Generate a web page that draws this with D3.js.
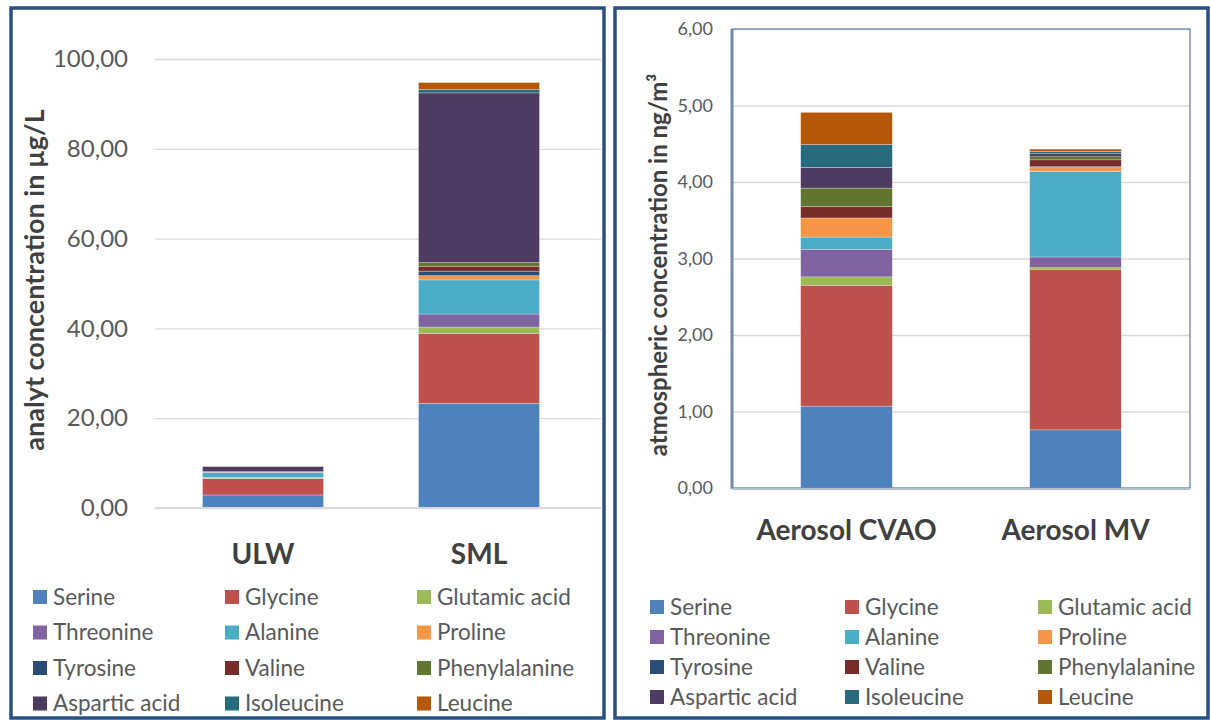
<!DOCTYPE html>
<html>
<head>
<meta charset="utf-8">
<script src="https://cdn.jsdelivr.net/npm/d3@7"></script>
<style>
  body { margin: 0; background: #fff; }
  svg { display: block; font-family: Lato, "Open Sans", sans-serif; }
</style>
</head>
<body>
<svg id="chart" width="1211" height="720"></svg>
<script>
// ---- data ----
const aminoAcids = ["Serine", "Glycine", "Glutamic acid", "Threonine", "Alanine", "Proline",
  "Tyrosine", "Valine", "Phenylalanine", "Aspartic acid", "Isoleucine", "Leucine"];
const colors = ["#4F81BD", "#C0504D", "#9BBB59", "#8064A2", "#4BACC6", "#F79646",
  "#2C4D75", "#772C2A", "#5F7530", "#4D3B62", "#276A7C", "#B65708"];

// water samples, µg/L
const waterSites = ["ULW", "SML"];
const ulwValues = [2.9, 3.7, 0.1, 0.1, 1.1, 0.05, 0.05, 0.05, 0.05, 1.1, 0.05, 0.05];
const smlValues = [23.3, 15.6, 1.4, 2.9, 7.6, 0.95, 1.0, 1.1, 0.8, 37.8, 0.8, 1.5];
const waterTicks = [0, 20, 40, 60, 80, 100];

// aerosol samples, ng/m3
const aerosolSites = ["Aerosol CVAO", "Aerosol MV"];
const cvaoValues = [1.07, 1.58, 0.11, 0.36, 0.16, 0.25, 0.0, 0.15, 0.24, 0.27, 0.30, 0.42];
const mvValues = [0.76, 2.10, 0.02, 0.14, 1.12, 0.05, 0.01, 0.09, 0.04, 0.04, 0.03, 0.03];
const aerosolTicks = [0, 1, 2, 3, 4, 5, 6];

// ---- helpers ----
const svg = d3.select("#chart");
const color = d3.scaleOrdinal(aminoAcids, colors);
const fmt = v => d3.format(".2f")(v).replace(".", ",");

function toRows(sites, valueLists) {
  return sites.map((s, i) => {
    const row = { site: s };
    aminoAcids.forEach((a, j) => row[a] = valueLists[i][j]);
    return row;
  });
}

function drawPanel(opt) {
  const g = svg.append("g");

  // panel frame
  g.append("rect")
    .attr("x", opt.frame[0]).attr("y", opt.frame[1])
    .attr("width", opt.frame[2]).attr("height", opt.frame[3])
    .attr("fill", "none").attr("stroke", "#2B4F80").attr("stroke-width", 3.5);

  const x = d3.scaleBand().domain(opt.sites).range([opt.left, opt.right])
    .paddingInner(opt.gap).paddingOuter(opt.gap / 2);
  const y = d3.scaleLinear().domain(opt.domain).range([opt.bottom, opt.top]);
  const gridRight = opt.gridRight || opt.right;

  // grid + tick labels
  const axis = g.append("g")
    .attr("transform", `translate(${opt.left},0)`)
    .call(d3.axisLeft(y).tickValues(opt.ticks).tickFormat(fmt)
      .tickSize(-(gridRight - opt.left)).tickPadding(opt.tickPad));
  axis.select(".domain").remove();
  axis.selectAll(".tick line").attr("stroke", "#D9D9D9").attr("stroke-width", 1.3);
  axis.selectAll(".tick text").attr("fill", "#595959")
    .style("font-size", opt.tickFont + "px").style("font-family", "Lato");

  // stacked bars
  const series = d3.stack().keys(aminoAcids)(toRows(opt.sites, opt.values));
  g.append("g").selectAll("g").data(series).join("g")
    .attr("fill", d => color(d.key))
    .selectAll("rect").data(d => d).join("rect")
    .attr("x", d => x(d.data.site))
    .attr("width", x.bandwidth())
    .attr("y", d => y(d[1]))
    .attr("height", d => Math.max(0, y(d[0]) - y(d[1])))
    .attr("stroke", "rgba(255,255,255,0.45)").attr("stroke-width", 0.6);

  // frame of plot area (aerosol chart only)
  if (opt.plotFrame) {
    g.append("rect")
      .attr("x", opt.left).attr("y", opt.top)
      .attr("width", opt.right - opt.left).attr("height", opt.bottom - opt.top)
      .attr("fill", "none").attr("stroke", "#5A7CAE").attr("stroke-width", 1.2);
    g.append("line")
      .attr("x1", opt.left).attr("x2", opt.left)
      .attr("y1", opt.top).attr("y2", opt.bottom + 1)
      .attr("stroke", "#7088AD").attr("stroke-width", 3);
    g.append("line")
      .attr("x1", opt.left).attr("x2", opt.right)
      .attr("y1", opt.bottom + 1).attr("y2", opt.bottom + 1)
      .attr("stroke", "#B4BFD0").attr("stroke-width", 2);
  } else {
    g.append("line")
      .attr("x1", opt.left).attr("x2", gridRight)
      .attr("y1", opt.bottom).attr("y2", opt.bottom)
      .attr("stroke", "#D9D9D9").attr("stroke-width", 2);
  }

  // category labels
  g.append("g").selectAll("text").data(opt.sites).join("text")
    .attr("x", d => x(d) + x.bandwidth() / 2)
    .attr("y", opt.catY)
    .attr("text-anchor", "middle")
    .attr("fill", "#404040")
    .style("font-size", opt.catFont + "px").style("font-weight", "bold")
    .text(d => d);

  // y axis title
  g.append("text")
    .attr("transform", `translate(${opt.titleX},${opt.titleY}) rotate(-90)`)
    .attr("text-anchor", "middle")
    .attr("fill", "#404040")
    .style("font-size", opt.titleFont + "px").style("font-weight", "bold")
    .text(opt.title);

  // legend, 3 columns x 4 rows
  const leg = g.append("g").selectAll("g").data(aminoAcids).join("g")
    .attr("transform", (d, i) =>
      `translate(${opt.legX[i % 3]},${opt.legY + Math.floor(i / 3) * opt.legStep})`);
  leg.append("rect")
    .attr("x", 0).attr("y", -7).attr("width", 14).attr("height", 14)
    .attr("fill", d => color(d));
  leg.append("text")
    .attr("x", 20).attr("dy", "0.35em")
    .attr("fill", "#595959")
    .style("font-size", opt.legFont + "px")
    .text(d => d);
}

drawPanel({
  frame: [11, 8, 593, 710],
  sites: waterSites, values: [ulwValues, smlValues],
  domain: [0, 100], ticks: waterTicks,
  left: 155, right: 587, gridRight: 601, top: 59, bottom: 508, gap: 0.44,
  tickPad: 27, tickFont: 24,
  catY: 564, catFont: 28,
  title: "analyt concentration in µg/L", titleX: 44, titleY: 280, titleFont: 27,
  legX: [33, 225, 417], legY: 597, legStep: 35.5, legFont: 22.5
});

drawPanel({
  frame: [615, 8, 593, 710],
  sites: aerosolSites, values: [cvaoValues, mvValues],
  domain: [0, 6], ticks: aerosolTicks,
  left: 732, right: 1190, top: 29, bottom: 488, gap: 0.6,
  tickPad: 19, tickFont: 18, plotFrame: true,
  catY: 540, catFont: 28,
  title: "atmospheric concentration in ng/m³", titleX: 667, titleY: 265, titleFont: 24,
  legX: [650, 845, 1038], legY: 607, legStep: 30, legFont: 22.5
});
</script>
</body>
</html>
